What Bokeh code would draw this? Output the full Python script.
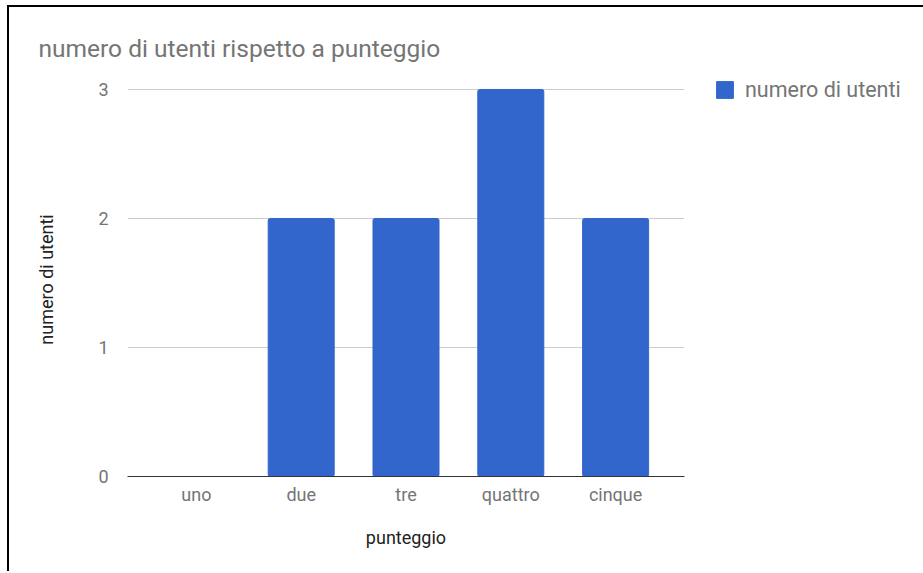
from bokeh.plotting import figure
from bokeh.models import FactorRange, Range1d, Legend, LegendItem, FixedTicker
from bokeh.embed import file_html
from bokeh.resources import INLINE

categories = ["uno", "due", "tre", "quattro", "cinque"]
utenti = [0, 2, 2, 3, 2]
y_ticks = [0, 1, 2, 3]

FONT = "Roboto"
GREY = "#757575"
DARK = "#222222"
BLUE = "#3366cc"

p = figure(frame_width=557, frame_height=394, output_backend="svg", toolbar_location=None,
           x_range=FactorRange(*categories, range_padding=0.063),
           y_range=Range1d(0, 3.054),
           min_border_left=127, min_border_right=230, min_border_top=82, min_border_bottom=95)
# left and top frame lines of the original screenshot
p.styles = {
    "background-color": "white",
    "background-image": "linear-gradient(#000, #000), linear-gradient(#000, #000)",
    "background-position": "7px 5px, 7px 5px",
    "background-size": "2px 100%, 100% 2px",
    "background-repeat": "no-repeat, no-repeat",
}
p.outline_line_color = None
p.background_fill_color = "white"
p.border_fill_alpha = 0

r = p.vbar(x=categories, top=utenti, width=0.63, color=BLUE, border_radius=2)

# Title
p.title.text = "numero di utenti rispetto a punteggio"
p.title.text_font = FONT
p.title.text_font_size = "24.5px"
p.title.text_font_style = "normal"
p.title.text_color = GREY
p.title.align = "left"
p.title.offset = -89
p.title.standoff = 39

# Axes
xa = p.xaxis[0]
xa.axis_label = "punteggio"
xa.axis_label_text_font = FONT
xa.axis_label_text_font_size = "18px"
xa.axis_label_text_font_style = "normal"
xa.axis_label_text_color = DARK
xa.axis_label_standoff = 19
xa.major_label_text_font = FONT
xa.major_label_text_font_size = "18px"
xa.major_label_text_color = GREY
xa.major_label_standoff = 1
xa.axis_line_color = "#333333"
xa.axis_line_width = 1
xa.major_tick_line_color = None
xa.minor_tick_line_color = None

ya = p.yaxis[0]
ya.ticker = FixedTicker(ticks=y_ticks)
ya.axis_label = "numero di utenti"
ya.axis_label_text_font = FONT
ya.axis_label_text_font_size = "18px"
ya.axis_label_text_font_style = "normal"
ya.axis_label_text_color = DARK
ya.axis_label_standoff = 38
ya.major_label_text_font = FONT
ya.major_label_text_font_size = "18px"
ya.major_label_text_color = GREY
ya.major_label_standoff = 13
ya.axis_line_color = None
ya.major_tick_line_color = None
ya.minor_tick_line_color = None

p.xgrid.grid_line_color = None
p.ygrid.grid_line_color = "#cccccc"
p.ygrid.grid_line_width = 1

# Legend
legend = Legend(items=[LegendItem(label="numero di utenti", renderers=[r])],
                location=(30, 374), orientation="vertical")
legend.label_text_font = FONT
legend.label_text_font_size = "21.5px"
legend.label_text_color = GREY
legend.glyph_width = 21
legend.glyph_height = 21
legend.label_standoff = 10
legend.padding = 0
legend.margin = 0
legend.border_line_color = None
legend.background_fill_alpha = 0
p.add_layout(legend, "right")

open("out.html", "w").write(file_html(p, INLINE))
